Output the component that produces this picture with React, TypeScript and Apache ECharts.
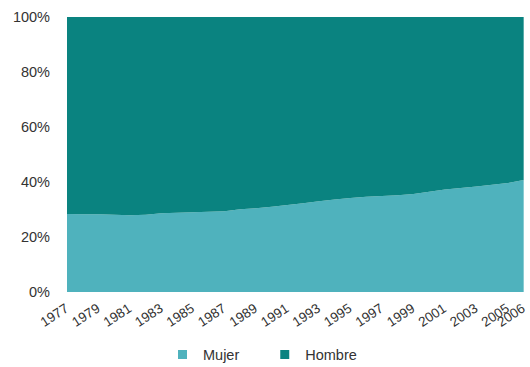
import React, { useEffect, useRef } from "react";
import * as echarts from "echarts";

const years: string[] = [
  "1977", "1978", "1979", "1980", "1981", "1982", "1983", "1984", "1985", "1986",
  "1987", "1988", "1989", "1990", "1991", "1992", "1993", "1994", "1995", "1996",
  "1997", "1998", "1999", "2000", "2001", "2002", "2003", "2004", "2005", "2006",
];

const mujer: number[] = [
  28.4, 28.3, 28.3, 28.1, 27.9, 28.1, 28.6, 28.8, 29.0, 29.2,
  29.4, 30.1, 30.5, 31.0, 31.6, 32.3, 33.0, 33.6, 34.2, 34.6,
  34.9, 35.2, 35.6, 36.5, 37.3, 37.8, 38.4, 39.0, 39.6, 40.7,
];

const hombre: number[] = mujer.map((v) => Math.round((100 - v) * 10) / 10);

const yTicks = [0, 20, 40, 60, 80, 100];

export default function App() {
  const ref = useRef<HTMLDivElement>(null);
  useEffect(() => {
    if (!ref.current) return;
    const chart = echarts.init(ref.current, null, { renderer: "svg" });
    const font = "'Liberation Sans', Arial, sans-serif";
    const last = years.length - 1;
    const xLabelBase = {
      rotate: 33,
      margin: 15,
      fontSize: 13.5,
      color: "#333333",
      fontFamily: font,
    };
    chart.setOption({
      animation: false,
      textStyle: { fontFamily: font },
      grid: { left: 67, right: 5, top: 17, bottom: 75 },
      legend: {
        data: ["Mujer", "Hombre"],
        top: 347,
        left: 178,
        padding: 0,
        icon: "rect",
        itemWidth: 9,
        itemHeight: 9,
        itemGap: 41,
        textStyle: {
          fontFamily: font,
          fontSize: 14.5,
          color: "#333333",
          padding: [0, 0, 0, 11],
        },
      },
      xAxis: [
        {
          type: "category",
          data: years,
          boundaryGap: false,
          position: "bottom",
          axisLine: { show: false },
          axisTick: { show: false },
          axisLabel: {
            ...xLabelBase,
            interval: (i: number) => i % 2 === 0 && i !== last,
          },
        },
        {
          type: "category",
          data: years,
          boundaryGap: false,
          position: "bottom",
          offset: 0,
          axisLine: { show: false },
          axisTick: { show: false },
          splitLine: { show: false },
          axisLabel: {
            ...xLabelBase,
            showMaxLabel: true,
            showMinLabel: false,
            interval: (i: number) => i === last,
          },
        },
      ],
      yAxis: {
        type: "value",
        min: yTicks[0],
        max: yTicks[yTicks.length - 1],
        interval: 20,
        axisLine: { show: false },
        axisTick: { show: false },
        splitLine: { show: false },
        axisLabel: {
          formatter: "{value}%",
          margin: 17,
          fontSize: 14.5,
          color: "#333333",
          fontFamily: font,
        },
      },
      series: [
        {
          name: "Mujer",
          type: "line",
          stack: "total",
          xAxisIndex: 0,
          data: mujer,
          symbol: "none",
          lineStyle: { width: 0 },
          itemStyle: { color: "#4fb2bd" },
          areaStyle: { color: "#4fb2bd", opacity: 1 },
        },
        {
          name: "Hombre",
          type: "line",
          stack: "total",
          xAxisIndex: 0,
          data: hombre,
          symbol: "none",
          lineStyle: { width: 0 },
          itemStyle: { color: "#0a8380" },
          areaStyle: { color: "#0a8380", opacity: 1 },
        },
      ],
    });
    return () => chart.dispose();
  }, []);
  return (
    <div
      ref={ref}
      style={{ position: "absolute", left: 0, top: 0, width: 530, height: 367 }}
    />
  );
}
